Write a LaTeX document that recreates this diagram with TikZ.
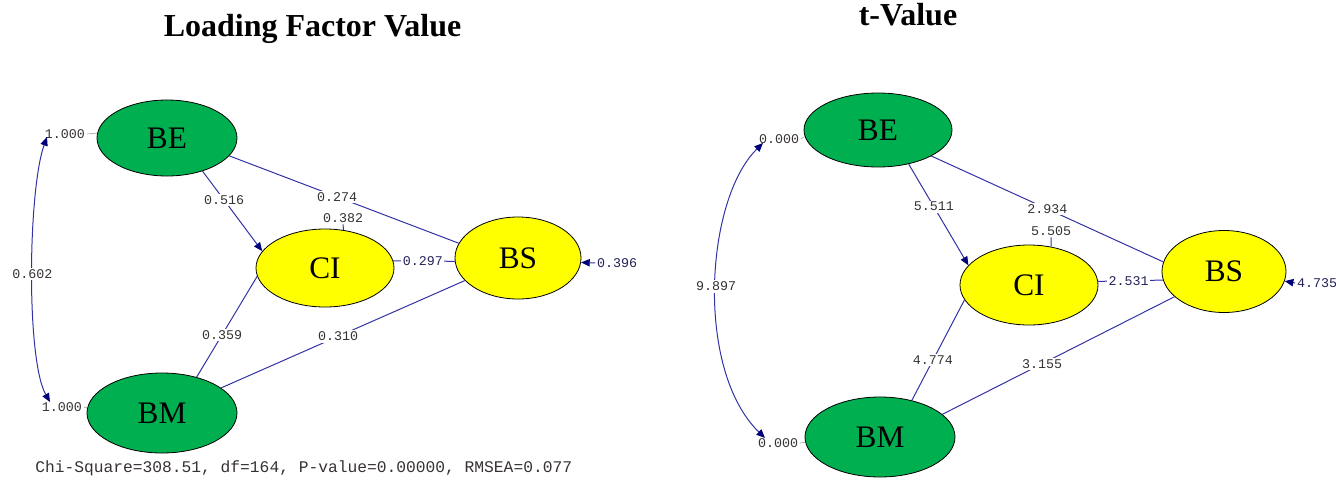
\documentclass[tikz,border=0pt]{standalone}
\usepackage{fontspec}
\setmainfont{Liberation Serif}
\newfontfamily\monof{Liberation Mono}
\usetikzlibrary{shapes.geometric,arrows.meta}
\definecolor{lcol}{RGB}{50,50,165}
\definecolor{acol}{RGB}{0,0,120}
\definecolor{gfill}{RGB}{0,176,80}
\definecolor{yfill}{RGB}{255,255,0}
\definecolor{tcol}{RGB}{55,50,50}
\definecolor{bcol}{RGB}{35,35,90}
\begin{document}
\begin{tikzpicture}[x=0.75pt,y=-0.75pt,
  lat/.style={ellipse,draw=black,line width=0.6pt,inner sep=0pt,font=\fontsize{23.5}{26}\selectfont},
  grn/.style={lat,fill=gfill},
  yel/.style={lat,fill=yfill},
  conn/.style={draw=lcol,line width=0.75pt},
  arr/.style={conn,-{Triangle[length=6.5pt,width=5.5pt,color=acol]}},
  dbl/.style={conn,{Triangle[length=6.5pt,width=5.5pt,color=acol]}-{Triangle[length=6.5pt,width=5.5pt,color=acol]}},
  tick/.style={draw=gray!70,line width=0.5pt},
  lbl/.style={font=\monof\fontsize{10}{11}\selectfont,text=tcol,fill=white,inner sep=1.2pt},
  vlbl/.style={lbl,fill=none},
  ttl/.style={font=\bfseries\fontsize{24}{28}\selectfont,anchor=base}
]
\useasboundingbox (0,0) rectangle (1336,479);

% titles
\node[ttl] (t1) at (312.5,36) {Loading Factor Value};
\node[ttl] (t2) at (908,25) {t-Value};

% ===== left diagram =====
\node[grn,minimum width=105pt,minimum height=57pt] (BE1) at (167,138) {BE};
\node[yel,minimum width=103.5pt,minimum height=58.5pt] (CI1) at (325,268) {CI};
\node[yel,minimum width=94.5pt,minimum height=61.5pt] (BS1) at (518,258) {BS};
\node[grn,minimum width=112.5pt,minimum height=60pt] (BM1) at (162,413) {BM};

\draw[conn] (BE1.-16) -- node[lbl,pos=0.47] (l274) {0.274} (BS1.166);
\draw[arr] (BE1.-43) -- node[lbl,pos=0.36] (l516) {0.516} (CI1.165);
\draw[conn] (BM1.46) -- node[lbl,pos=0.42] (l359) {0.359} (CI1.187);
\draw[conn] (BM1.23) -- node[lbl,pos=0.48] (l310) {0.310} (BS1.-157);
\draw[conn] (CI1.6) -- node[lbl,pos=0.48,text=bcol] (l297) {0.297} (BS1.183);
\node[lbl] (l382) at (343,218) {0.382};
\draw[conn] (l382.south) -- (CI1.64);
\node[lbl,text=bcol] (l396) at (617,263) {0.396};
\draw[arr] (l396.west) -- (BS1.-4);

\node[vlbl] (v1) at (65,134) {1.000};
\draw[tick] (v1.east) -- (BE1.176);
\node[vlbl] (v2) at (62,407) {1.000};
\draw[tick] (v2.east) -- (BM1.176);
\coordinate (c1a) at (47,137);
\coordinate (c1b) at (50,402);
\draw[dbl] (c1a) .. controls (28,190) and (26,360) .. node[lbl,pos=0.5] (l602) {0.602} (c1b);

% ===== right diagram =====
\node[grn,minimum width=111pt,minimum height=55.5pt] (BE2) at (878,130) {BE};
\node[yel,minimum width=103.5pt,minimum height=60pt] (CI2) at (1029,285) {CI};
\node[yel,minimum width=93pt,minimum height=61.5pt] (BS2) at (1224,271.5) {BS};
\node[grn,minimum width=112.5pt,minimum height=60pt] (BM2) at (880,437) {BM};

\draw[conn] (BE2.-26.6) -- node[lbl,pos=0.5] (l2934) {2.934} (BS2.171);
\draw[arr] (BE2.-48.5) -- node[lbl,pos=0.42] (l5511) {5.511} (CI2.162);
\draw[conn] (BM2.49) -- node[lbl,pos=0.4] (l4774) {4.774} (CI2.-167);
\draw[conn] (BM2.20) -- node[lbl,pos=0.43] (l3155) {3.155} (BS2.-153);
\draw[conn] (CI2.3) -- node[lbl,pos=0.47,text=bcol] (l2531) {2.531} (BS2.-172);
\node[lbl] (l5505) at (1051,231) {5.505};
\draw[conn] (l5505.south) -- (CI2.60);
\node[lbl,text=bcol] (l4735) at (1317,283) {4.735};
\draw[arr] (l4735.west) -- (BS2.-9);

\node[vlbl] (v3) at (779,139) {0.000};
\draw[tick] (v3.east) -- (BE2.185);
\node[vlbl] (v4) at (778,443) {0.000};
\draw[tick] (v4.east) -- (BM2.184);
\coordinate (c2a) at (763,143);
\coordinate (c2b) at (765,438);
\draw[dbl] (c2a) .. controls (705,200) and (695,370) .. node[lbl,pos=0.5] (l9897) {9.897} (c2b);

% fit statistics
\node[font=\monof\fontsize{12.2}{14}\selectfont,text=tcol,anchor=west,inner sep=0pt] (chi) at (35,468) {Chi-Square=308.51, df=164, P-value=0.00000, RMSEA=0.077};
\end{tikzpicture}
\end{document}
